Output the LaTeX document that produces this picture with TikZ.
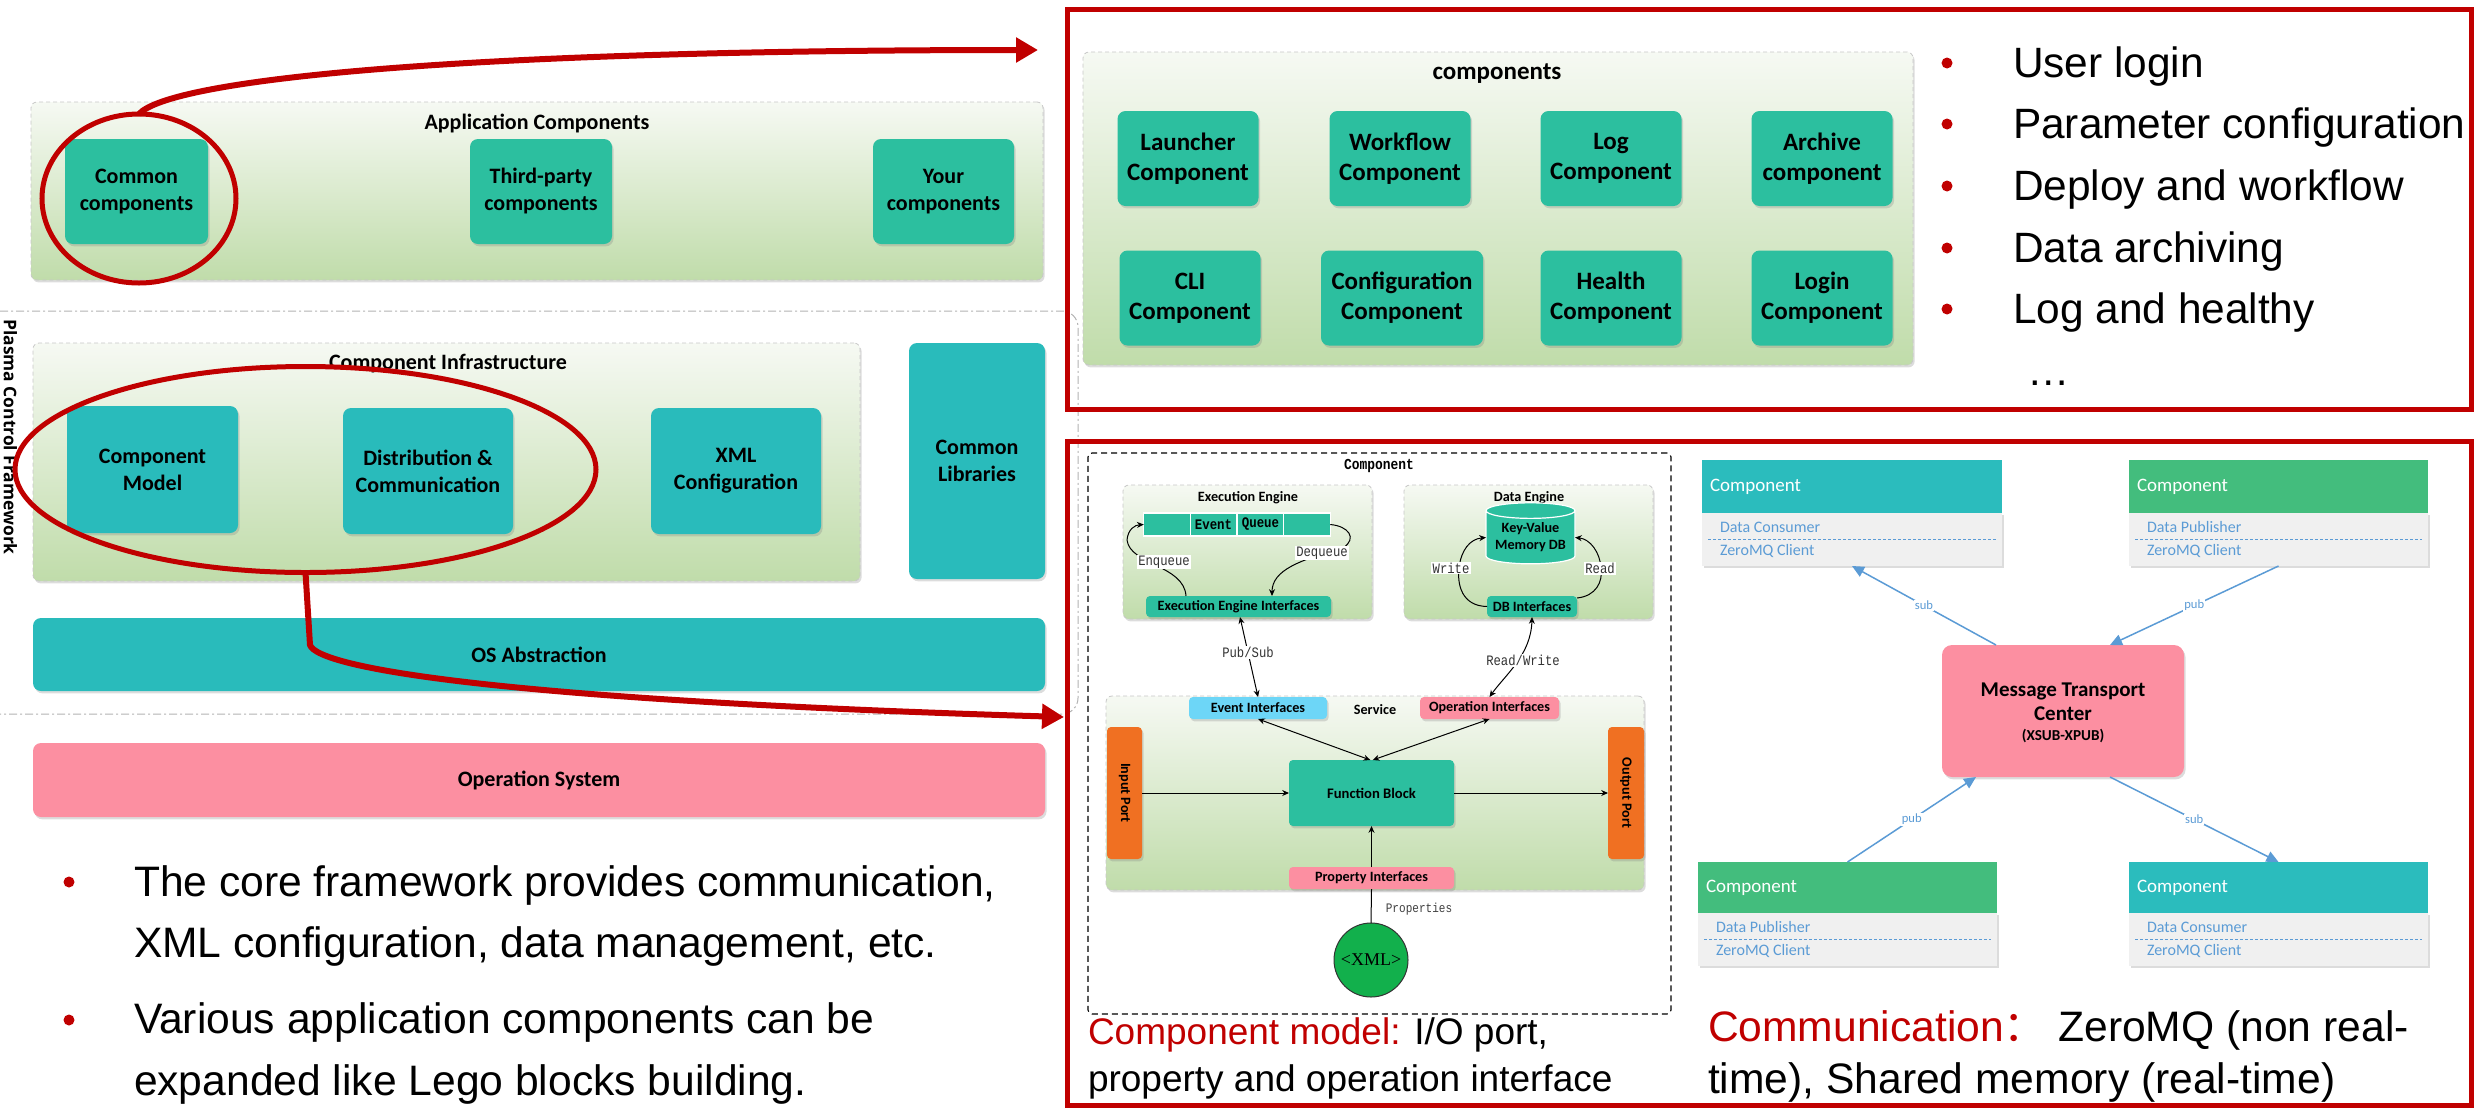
\documentclass[tikz,border=0pt]{standalone}
\usepackage{fontspec}
\setmainfont{Liberation Sans}
\newfontfamily\carlito{Carlito}
\newfontfamily\monof[FakeStretch=0.85]{Liberation Mono}
\newfontfamily\serf{Liberation Serif}
\newfontfamily\opensans{Open Sans}
\newfontfamily\cjk{Noto Sans CJK SC}
\usetikzlibrary{shapes.geometric, shadows, arrows.meta}

\definecolor{redc}{HTML}{C00000}
\definecolor{tealg}{HTML}{2CBF9F}
\definecolor{tealc}{HTML}{29BBBB}
\definecolor{pinkc}{HTML}{FC8FA1}
\definecolor{orangec}{HTML}{F07022}
\definecolor{lbluec}{HTML}{6DD6F7}
\definecolor{greenh}{HTML}{43BD7D}
\definecolor{cyanh}{HTML}{2BBCBD}
\definecolor{bodyg}{HTML}{F0F0F0}
\definecolor{bluel}{HTML}{5B9BD5}
\definecolor{grtop}{HTML}{F6F9F3}
\definecolor{grbot}{HTML}{C0DCAA}
\definecolor{xmlg}{HTML}{12B04C}

\tikzset{
  every node/.style={inner sep=0pt, outer sep=0pt},
  shd/.style={drop shadow={shadow xshift=0.8pt, shadow yshift=-1.2pt, opacity=0.28}},
  grp/.style={rounded corners=3pt, draw=black!22, dash pattern=on 2pt off 1.5pt,
    line width=0.4pt, top color=grtop, bottom color=grbot, shd},
  blk/.style={rounded corners=4pt, align=center, shd,
    font=\carlito\bfseries\fontsize{11pt}{13.5pt}\selectfont},
  blkb/.style={rounded corners=4pt, align=center, shd, fill=tealg,
    font=\carlito\bfseries\fontsize{12.5pt}{15pt}\selectfont,
    minimum width=70.5pt, minimum height=47.5pt},
  ttl/.style={font=\carlito\bfseries\fontsize{11pt}{13pt}\selectfont},
  sml/.style={rounded corners=2pt, align=center, shd,
    font=\carlito\bfseries\fontsize{7.1pt}{8.5pt}\selectfont},
  sttl/.style={font=\carlito\bfseries\fontsize{7.1pt}{8.5pt}\selectfont},
  lblm/.style={font=\monof\fontsize{7.2pt}{8pt}\selectfont, fill=white,
    inner sep=0.6pt, text=black!80},
  arrS/.style={line width=0.5pt, -{Stealth[length=3.4pt, width=3pt]}},
  arrD/.style={line width=0.5pt, {Stealth[length=3.4pt, width=3pt]}-{Stealth[length=3.4pt, width=3pt]}},
  redarrow/.style={draw=redc, line width=3pt, -{Triangle[length=11pt, width=12pt]}},
  ring/.style={ellipse, draw=redc, line width=2.5pt},
  panel/.style={draw=redc, line width=2.5pt},
  big/.style={font=\fontsize{21.3pt}{25pt}\selectfont, anchor=base west},
  dotr/.style={circle, fill=redc, minimum size=5.5pt},
  qcell/.style={fill=tealg, draw=white, line width=0.6pt, minimum width=23.25pt,
    minimum height=11.5pt, font=\monof\bfseries\fontsize{7.3pt}{8pt}\selectfont},
  chead/.style={minimum height=26.5pt, text=white, anchor=center,
    font=\carlito\fontsize{9.5pt}{11pt}\selectfont},
  cbody/.style={fill=bodyg, minimum height=26.5pt, shd},
  ctext/.style={anchor=west, text=bluel, font=\carlito\fontsize{8pt}{9.5pt}\selectfont},
  barr/.style={draw=bluel, line width=0.75pt, -{Triangle[length=6pt, width=5.5pt]}},
  blbl/.style={fill=white, inner sep=0.5pt, text=bluel, font=\carlito\fontsize{6.3pt}{7pt}\selectfont}
}

\begin{document}
\begin{tikzpicture}[x={(0.5pt,0)}, y={(0,-0.5pt)}]
\useasboundingbox (0,0) rectangle (2483,1109);

% ================= framework stack =================
\draw[black!30, line width=0.5pt, dash pattern=on 4pt off 1.5pt on 1pt off 1.5pt,
  rounded corners=8pt] (0,311) -- (1078,311) -- (1078,714) -- (0,714);
\node[rotate=-90, font=\opensans\bfseries\fontsize{8.7pt}{10pt}\selectfont]
  (pcf) at (10.5,437) {Plasma Control Framework};

% application layer
\node[grp, minimum width=506pt, minimum height=89pt] (appc) at (537,191) {};
\node[ttl] (appct) at (537,123) {Application Components};
\node[blk, fill=tealg, minimum width=71.5pt, minimum height=52.5pt] (common) at (136.5,191.5) {Common\\components};
\node[blk, fill=tealg, minimum width=71pt, minimum height=52.5pt] (third) at (541,191.5) {Third-party\\components};
\node[blk, fill=tealg, minimum width=70.5pt, minimum height=52.5pt] (yours) at (943.5,191.5) {Your\\components};

% infrastructure layer
\node[grp, minimum width=413.5pt, minimum height=119pt] (infra) at (446.5,462) {};
\node[ttl] (infrat) at (448,364) {Component Infrastructure};
\node[blk, fill=tealc, minimum width=85.5pt, minimum height=63.5pt] (cmodel) at (152.5,469.5) {Component\\Model};
\node[blk, fill=tealc, minimum width=85pt, minimum height=63pt] (distcom) at (428,471) {Distribution \&\\Communication};
\node[blk, fill=tealc, minimum width=85pt, minimum height=63pt] (xmlconf) at (736,471) {XML\\Configuration};
\node[blk, fill=tealc, minimum width=68pt, minimum height=118pt] (commlib) at (977,461) {Common\\Libraries};

\node[blk, fill=tealc, minimum width=506pt, minimum height=36.5pt] (osabs) at (539,654.5) {OS Abstraction};
\node[blk, fill=pinkc, minimum width=506pt, minimum height=37pt] (ossys) at (539,780) {Operation System};

% notes
\node[dotr] (d1) at (69,882) {};
\node[big] (n1a) at (134,896) {The core framework provides communication,};
\node[big] (n1b) at (134,957) {XML configuration, data management, etc.};
\node[dotr] (d2) at (69,1020) {};
\node[big] (n2a) at (134,1033) {Various application components can be};
\node[big] (n2b) at (134,1095) {expanded like Lego blocks building.};

% ================= panel: application components =================
\node[panel, minimum width=702pt, minimum height=200pt] (panel1) at (1769,209) {};
\node[grp, minimum width=415pt, minimum height=156.5pt] (comps) at (1498,208.5) {};
\node[font=\carlito\bfseries\fontsize{12.5pt}{15pt}\selectfont] (compst) at (1497,74) {components};
\node[blkb] (launch) at (1188,158.5) {Launcher\\Component};
\node[blkb] (workf) at (1400,158.5) {Workflow\\Component};
\node[blkb] (logc) at (1611,158.5) {Log\\Component};
\node[blkb] (arch) at (1822,158.5) {Archive\\component};
\node[blkb] (cli) at (1190,298) {CLI\\Component};
\node[blkb, minimum width=81pt] (confc) at (1402,298) {Configuration\\Component};
\node[blkb] (health) at (1611,298) {Health\\Component};
\node[blkb] (login) at (1822,298) {Login\\Component};

\foreach \yy/\txt [count=\i] in {77/User login, 138/Parameter configuration,
    200/Deploy and workflow, 262/Data archiving, 323/Log and healthy}{
  \node[dotr] (rd\i) at (1947,\yy-14) {};
  \node[big, font=\fontsize{21.2pt}{25pt}\selectfont] (rt\i) at (2013,\yy) {\txt};
}
\node[big, font=\fontsize{21.2pt}{25pt}\selectfont] (rdots) at (2027,385) {…};

% ================= panel: component model =================
\node[panel, minimum width=702pt, minimum height=332pt] (panel2) at (1769,773) {};
\node[draw=black, line width=0.55pt, dash pattern=on 3pt off 2pt, rounded corners=2pt,
  minimum width=291.5pt, minimum height=280.5pt] (compbox) at (1379.5,733.5) {};
\node[font=\monof\bfseries\fontsize{7.6pt}{8.5pt}\selectfont] (compt) at (1379,466) {Component};

% execution engine
\node[grp, minimum width=124.5pt, minimum height=67pt] (exeng) at (1247.5,552) {};
\node[sttl] (exengt) at (1248,498) {Execution Engine};
\node[qcell] (q1) at (1167,524.5) {};
\node[qcell] (q2) at (1213.5,524.5) {Event};
\node[qcell] (q3) at (1260.5,524.5) {Queue};
\node[qcell] (q4) at (1307,524.5) {};
\node[sml, fill=tealg, minimum width=92.5pt, minimum height=10.5pt] (eeif) at (1238.5,606.5) {Execution Engine Interfaces};
\draw[arrS] ([xshift=20pt]eeif.north west) .. controls (1184,565) and (1130,565) .. (1127,540)
  .. controls (1128,529) and (1135,525) .. (q1.west);
\node[lblm] (enq) at (1164,562) {Enqueue};
\draw[arrS] (q4.east) .. controls (1348,526) and (1358,538) .. (1343,548)
  .. controls (1300,560) and (1272,570) .. ([xshift=16.75pt]eeif.north);
\node[lblm] (deq) at (1322,553) {Dequeue};

% data engine
\node[grp, minimum width=124.5pt, minimum height=67pt] (daten) at (1528.5,552) {};
\node[sttl] (datent) at (1529,498) {Data Engine};
\node[cylinder, shape border rotate=90, aspect=0.22, draw=white, line width=0.6pt,
  fill=tealg, minimum width=44.5pt, minimum height=30.5pt, align=center,
  font=\carlito\bfseries\fontsize{7.1pt}{8.5pt}\selectfont] (cyl) at (1530.5,537.5) {Key-Value\\Memory DB};
\node[sml, fill=tealg, minimum width=45pt, minimum height=10.5pt] (dbif) at (1532,606.5) {DB Interfaces};
\draw[arrS] (dbif.west) .. controls (1462,606) and (1457,585) .. (1459,568)
  .. controls (1461,550) and (1470,539) .. ([xshift=-22.25pt]cyl.center);
\node[lblm] (wr) at (1451,568) {Write};
\draw[arrS] ([yshift=4.25pt]dbif.east) .. controls (1596,596) and (1603,582) .. (1601,568)
  .. controls (1600,552) and (1590,539) .. ([xshift=22.25pt]cyl.center);
\node[lblm] (rd) at (1600,568) {Read};

% service
\node[grp, minimum width=269pt, minimum height=97pt] (serv) at (1375,793) {};
\node[sttl] (servt) at (1375,710) {Service};
\node[sml, fill=lbluec, minimum width=69pt, minimum height=11pt] (evif) at (1258,708) {Event Interfaces};
\node[sml, fill=pinkc, minimum width=69.5pt, minimum height=11pt] (opif) at (1489.5,708) {Operation Interfaces};
\node[sml, fill=orangec, minimum width=17.5pt, minimum height=66pt] (inport) at (1124.5,793) {};
\node[sttl, rotate=-90] (inportt) at (inport) {Input Port};
\node[sml, fill=orangec, minimum width=18pt, minimum height=66pt] (outport) at (1626,793) {};
\node[sttl, rotate=-90] (outportt) at (outport) {Output Port};
\node[sml, fill=tealg, minimum width=82.5pt, minimum height=33pt,
  font=\carlito\bfseries\fontsize{7.3pt}{8.5pt}\selectfont] (fb) at (1371.5,793) {Function Block};
\node[sml, fill=pinkc, minimum width=82.5pt, minimum height=11pt] (propif) at (1371.5,878) {Property Interfaces};
\node[circle, draw=black!80, line width=0.5pt, fill=xmlg, minimum size=37pt,
  font=\serf\fontsize{9pt}{10pt}\selectfont] (xml) at (1371,960) {<XML>};

\draw[arrS] (inport.east) -- (fb.west);
\draw[arrS] (fb.east) -- (outport.west);
\draw[arrS] (propif.north) -- (fb.south);
\draw[line width=0.5pt] (xml.north) -- (propif.south);
\node[font=\monof\fontsize{6.5pt}{7.5pt}\selectfont, text=black!75] (propl) at (1419,909) {Properties};
\draw[arrD] (evif.south) -- ([xshift=-0.6pt]fb.north);
\draw[arrD] (opif.south) -- ([xshift=0.6pt]fb.north);
\draw[arrD] ([xshift=0.75pt]eeif.south) -- (evif.north);
\node[lblm] (pubsub) at (1248,652) {Pub/Sub};
\draw[arrD] (dbif.south) .. controls (1531,655) and (1505,675) .. (opif.north);
\node[lblm] (rwl) at (1523,660) {Read/Write};

\node[anchor=base west, font=\fontsize{18.5pt}{22pt}\selectfont] (cap1a) at (1088,1044)
  {\textcolor{redc}{Component model:} I/O port,};
\node[anchor=base west, font=\fontsize{18.5pt}{22pt}\selectfont] (cap1b) at (1088,1091)
  {property and operation interface};

% ================= communication =================
\node[chead, fill=cyanh, minimum width=150pt] (tlh) at (1852,486.5) {};
\node[cbody, minimum width=150pt] (tlb) at (1852,539.5) {};
\node[chead, fill=greenh, minimum width=149.5pt] (trh) at (2278.5,486.5) {};
\node[cbody, minimum width=149.5pt] (trb) at (2278.5,539.5) {};
\node[chead, fill=greenh, minimum width=149.5pt, minimum height=25.5pt] (blh) at (1847.5,887.5) {};
\node[cbody, minimum width=149.5pt] (blb) at (1847.5,939.5) {};
\node[chead, fill=cyanh, minimum width=149.5pt, minimum height=25.5pt] (brh) at (2278.5,887.5) {};
\node[cbody, minimum width=149.5pt] (brb) at (2278.5,939.5) {};

\foreach \c/\role in {tl/Data Consumer, tr/Data Publisher, bl/Data Publisher, br/Data Consumer}{
  \node[anchor=west, text=white, font=\carlito\fontsize{9.5pt}{11pt}\selectfont] at ([xshift=4pt]\c h.west) {Component};
  \node[ctext] at ([xshift=9pt, yshift=-7pt]\c b.north west) {\role};
  \draw[bluel, line width=0.5pt, dash pattern=on 1.5pt off 1pt]
    ([xshift=3pt, yshift=-13pt]\c b.north west) -- ([xshift=-3pt, yshift=-13pt]\c b.north east);
  \node[ctext] at ([xshift=9pt, yshift=-19pt]\c b.north west) {ZeroMQ Client};
}

\node[fill=pinkc, rounded corners=5pt, minimum width=121pt, minimum height=66pt, shd] (mtc) at (2063,711) {};
\node[align=center, font=\carlito\bfseries\fontsize{10.5pt}{12pt}\selectfont] (mtct) at (2063,702) {Message Transport\\Center};
\node[font=\carlito\bfseries\fontsize{7.6pt}{9pt}\selectfont] (mtcs) at (2063,736) {(XSUB-XPUB)};

\draw[barr] ([xshift=-33.5pt]mtc.north) -- node[blbl] {sub} (tlb.south);
\draw[barr] (trb.south) -- node[blbl] {pub} ([xshift=23.5pt]mtc.north);
\draw[barr] (blh.north) -- node[blbl] {pub} ([xshift=-43.5pt]mtc.south);
\draw[barr] ([xshift=23.5pt]mtc.south) -- node[blbl] {sub} (brh.north);

\node[anchor=base west, font=\fontsize{21.3pt}{25pt}\selectfont] (cap2a) at (1708,1041)
  {\textcolor{redc}{Communication{\cjk ：}} ZeroMQ (non real-};
\node[anchor=base west, font=\fontsize{21.3pt}{25pt}\selectfont] (cap2b) at (1708,1093)
  {time), Shared memory (real-time)};

% ================= callout rings and arrows =================
\node[ring, minimum width=97pt, minimum height=84.5pt] (ring1) at (139,198.5) {};
\node[ring, minimum width=290.5pt, minimum height=103pt] (ring2) at (305.5,469.5) {};
\coordinate (tgt1) at (1038,50);
\coordinate (tgt2) at (1064,717);
\draw[redarrow] (ring1.north) .. controls (170,80) and (450,50) .. (tgt1);
\draw[redarrow] (ring2.south) -- (310,645) .. controls (318,668) and (500,700) .. (tgt2);

\end{tikzpicture}
\end{document}
